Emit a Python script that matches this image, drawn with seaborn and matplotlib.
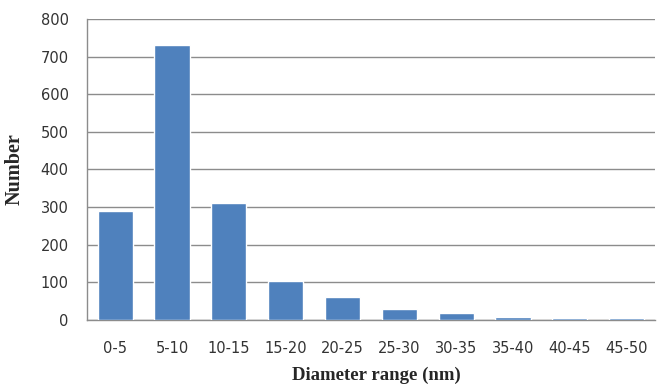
import matplotlib
matplotlib.use("Agg")
import matplotlib.pyplot as plt
import numpy as np
import pandas as pd
import seaborn as sns

ranges = ["0-5", "5-10", "10-15", "15-20", "20-25", "25-30", "30-35", "35-40", "40-45", "45-50"]
counts = [290, 730, 310, 104, 62, 28, 18, 8, 4, 4]

df = pd.DataFrame({"range": ranges, "count": counts})

sns.set_theme(style="white")
plt.rcParams["font.family"] = ["DejaVu Sans"]

fig = plt.figure(figsize=(6.57, 3.86), dpi=100)
ax = fig.add_axes([0.132, 0.171, 0.865, 0.780])

sns.barplot(data=df, x="range", y="count", color="#4F81BD", saturation=1,
            width=0.62, ax=ax, zorder=3)

ax.set_ylim(0, 800)
ax.set_xlim(-0.5, len(ranges) - 0.5)
ax.set_yticks(np.arange(0, 801, 100))
ax.yaxis.grid(True, color="#8C8C8C", linewidth=1)
ax.set_axisbelow(True)

for side in ["top", "right"]:
    ax.spines[side].set_visible(False)
for side in ["left", "bottom"]:
    ax.spines[side].set_color("#8C8C8C")
    ax.spines[side].set_linewidth(1)

ax.set_xticks(np.arange(-0.5, len(ranges), 1), minor=True)
ax.tick_params(axis="x", which="major", length=0, pad=15, labelsize=10.5, labelcolor="#333333")
ax.tick_params(axis="x", which="minor", length=5, color="#8C8C8C", width=1, direction="out")
ax.tick_params(axis="y", length=5, color="#8C8C8C", width=1, direction="out",
               labelsize=10.5, labelcolor="#333333", pad=8)

ax.set_xlabel("Diameter range (nm)", family="Liberation Serif", fontweight="bold", fontsize=13.5)
ax.set_ylabel("Number", family="Liberation Serif", fontweight="bold", fontsize=14.5)
ax.xaxis.set_label_coords(0.51, -0.155)
ax.yaxis.set_label_coords(-0.11, 0.5)

fig.savefig("out.png", dpi=100)
